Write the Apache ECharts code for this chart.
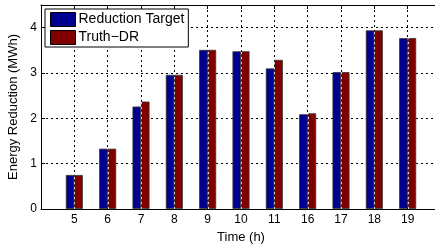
<!DOCTYPE html>
<html>
<head>
<meta charset="utf-8">
<script src="https://cdn.jsdelivr.net/npm/echarts@6/dist/echarts.min.js"></script>
<style>
  html, body { margin: 0; padding: 0; background: #fff; }
  #chart { width: 435px; height: 245px; }
</style>
</head>
<body>
<div id="chart"></div>
<script>
var hours = ['5', '6', '7', '8', '9', '10', '11', '16', '17', '18', '19'];
var target = [0.75, 1.33, 2.26, 2.96, 3.51, 3.48, 3.10, 2.09, 3.02, 3.94, 3.77];
var truthDR = [0.75, 1.33, 2.37, 2.96, 3.51, 3.48, 3.29, 2.11, 3.02, 3.94, 3.77];

function pairs(vals) {
  return vals.map(function (v, i) { return [i + 1, v]; });
}

var chart = echarts.init(document.getElementById('chart'));
var font = 'Liberation Sans, Arial, sans-serif';
var tickStyle = { color: '#000' };
var option = {
  animation: false,
  textStyle: { fontFamily: font },
  grid: { left: 41, right: -6, top: 5, bottom: 36, outerBoundsMode: 'none', containLabel: false },
  legend: {
    orient: 'vertical',
    left: 45, top: 9,
    itemWidth: 25, itemHeight: 14, itemGap: 3,
    padding: [3, 4, 2, 5],
    borderColor: '#000', borderWidth: 1, backgroundColor: '#fff',
    textStyle: { fontSize: 14, color: '#000', padding: [0, 0, 0, -2] },
    data: [
      { name: 'Reduction Target', icon: 'rect', itemStyle: { borderColor: '#000', borderWidth: 1 } },
      { name: 'Truth\u2212DR', icon: 'rect', itemStyle: { borderColor: '#000', borderWidth: 1 } }
    ]
  },
  xAxis: [{
    type: 'value', min: 0, max: 12, interval: 1,
    name: 'Time (h)', nameLocation: 'middle', nameGap: 19,
    nameTextStyle: { fontSize: 13, color: '#000' },
    axisLine: { lineStyle: tickStyle },
    axisTick: { inside: true, length: 4, lineStyle: tickStyle },
    axisLabel: {
      fontSize: 12, color: '#000', margin: 5,
      formatter: function (v) { return hours[v - 1] || ''; }
    },
    splitLine: { show: true, lineStyle: { color: '#000', type: [2, 3], width: 1 } }
  }, {
    type: 'value', min: 0, max: 12, interval: 1, position: 'top',
    axisLine: { show: true, lineStyle: tickStyle },
    axisTick: { show: true, inside: true, length: 4, lineStyle: tickStyle },
    axisLabel: { show: false },
    splitLine: { show: false }
  }],
  yAxis: {
    type: 'value', min: 0, max: 4.5, interval: 1,
    name: 'Energy Reduction (MWh)', nameLocation: 'middle', nameGap: 20,
    nameTextStyle: { fontSize: 13, color: '#000' },
    axisLine: { show: true, lineStyle: tickStyle },
    axisTick: { show: true, inside: true, length: 4, lineStyle: tickStyle },
    axisLabel: { fontSize: 12, color: '#000', margin: 4, showMaxLabel: false },
    splitLine: { lineStyle: { color: '#000', type: [2, 3], width: 1 } }
  },
  series: [
    {
      name: 'Reduction Target', type: 'bar', barWidth: 8.5, barGap: '0%',
      itemStyle: { color: '#000090', borderColor: '#333', borderWidth: 0.8 },
      data: pairs(target)
    },
    {
      name: 'Truth\u2212DR', type: 'bar', barWidth: 8.5, barGap: '0%',
      itemStyle: { color: '#800000', borderColor: '#333', borderWidth: 0.8 },
      data: pairs(truthDR)
    },
    {
      // grid line showing through the bars (drawn on top of them)
      name: 'gridOverlay', type: 'custom', z: 5, silent: true,
      data: target.map(function (v, i) { return [i + 1, Math.max(v, truthDR[i])]; }),
      renderItem: function (params, api) {
        var p0 = api.coord([api.value(0), 0]);
        var p1 = api.coord([api.value(0), api.value(1)]);
        var x = Math.round(p0[0]) + 0.5;
        return {
          type: 'line',
          shape: { x1: x, y1: p0[1], x2: x, y2: p1[1] },
          style: { stroke: '#d0d0d0', lineWidth: 1, lineDash: [2, 3] }
        };
      }
    }
  ]
};
chart.setOption(option);
</script>
</body>
</html>
